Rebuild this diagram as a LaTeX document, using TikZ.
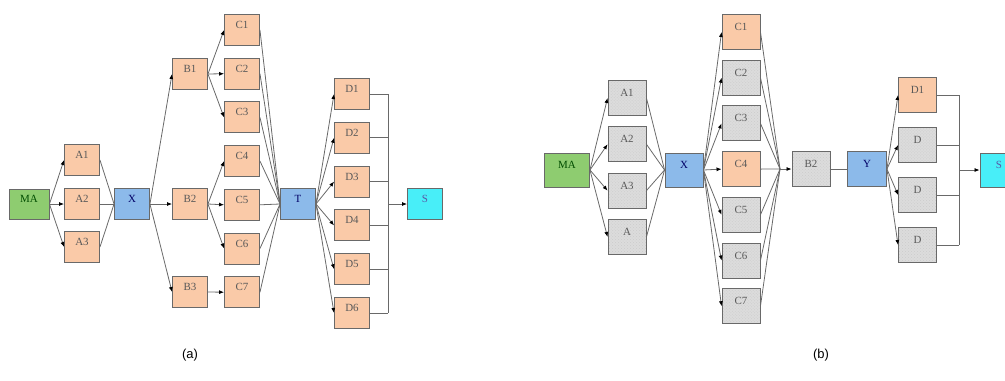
\documentclass[tikz,border=0pt]{standalone}
\usepackage{fontspec}
\setmainfont{Liberation Serif}
\newfontfamily\capfont{Liberation Sans}
\usetikzlibrary{arrows.meta,patterns,positioning}

\definecolor{peach}{RGB}{250,202,168}
\definecolor{leaf}{RGB}{142,204,112}
\definecolor{sky}{RGB}{140,186,234}
\definecolor{aqua}{RGB}{72,238,248}
\definecolor{ash}{RGB}{220,220,220}
\definecolor{wire}{RGB}{105,105,105}

\tikzset{
  box/.style={draw=wire, line width=0.9bp, inner sep=0pt,
    text height=7bp, text depth=10bp,
    font=\fontsize{11}{13}\selectfont, text=black!65},
  sza/.style={minimum width=35bp, minimum height=31bp},
  szb/.style={minimum width=38bp, minimum height=35bp},
  task/.style={box, fill=peach},
  idle/.style={box, preaction={fill=ash}, pattern=crosshatch dots, pattern color=gray!40},
  start/.style={box, fill=leaf, text=green!30!black},
  hub/.style={box, fill=sky, text=blue!40!black},
  sink/.style={box, fill=aqua, text=blue!30!gray},
  link/.style={draw=wire, line width=0.8bp},
  feed/.style={link, -{Latex[length=5bp,width=4bp,black]}}
}

\begin{document}
\begin{tikzpicture}[x=1bp, y=-1bp]
  \clip (0,0) rectangle (1005,380);

  % ---- (a)
  \node[start, minimum width=40bp, minimum height=30bp] (aMA) at (29,204) {MA};
  \foreach \i/\y in {1/160, 2/204, 3/247}
    \node[task, sza] (aA\i) at (82,\y) {A\i};
  \node[hub, sza] (aX) at (132,204) {X};
  \foreach \i/\y in {1/74, 2/204, 3/292}
    \node[task, sza] (aB\i) at (190,\y) {B\i};
  \foreach \i in {1,...,7}
    \node[task, sza] (aC\i) at (242,{30+43.7*(\i-1)}) {C\i};
  \node[hub, sza] (aT) at (298,204) {T};
  \foreach \i in {1,...,6}
    \node[task, sza] (aD\i) at (352,{94+43.8*(\i-1)}) {D\i};
  \coordinate (aBus) at (388,204);
  \node[sink, sza] (aS) at (425,204) {S};

  \foreach \i in {1,2,3} {
    \draw[feed] (aMA.east) -- (aA\i.west);
    \draw[link] (aA\i.east) -- (aX.west);
    \draw[feed] (aX.east) -- (aB\i.west);
  }
  \foreach \i in {1,2,3} \draw[feed] (aB1.east) -- (aC\i.west);
  \foreach \i in {4,5,6} \draw[feed] (aB2.east) -- (aC\i.west);
  \draw[feed] (aB3.east) -- (aC7.west);
  \foreach \i in {1,...,7} \draw[link] (aC\i.east) -- (aT.west);
  \foreach \i in {1,...,6} {
    \draw[feed] (aT.east) -- (aD\i.west);
    \draw[link] (aD\i.east) -- (aD\i.east -| aBus);
  }
  \draw[link] (aD1.east -| aBus) -- (aD6.east -| aBus);
  \draw[feed] (aBus) -- (aS.west);
  \node[font=\capfont\fontsize{13}{15}\selectfont] (aCap) at (190,355) {(a)};

  % ---- (b)
  \node[start, minimum width=45bp, minimum height=34bp] (bMA) at (567,170) {MA};
  \foreach \i/\t in {1/A1, 2/A2, 3/A3, 4/A}
    \node[idle, szb] (bA\i) at (627,{98+46.3*(\i-1)}) {\t};
  \node[hub, szb, minimum height=34bp] (bX) at (684,170) {X};
  \foreach \i/\s in {1/task, 2/idle, 3/idle, 4/task, 5/idle, 6/idle, 7/idle}
    \node[\s, szb] (bC\i) at (741,{32+45.7*(\i-1)}) {C\i};
  \coordinate (bJoin) at (780,169);
  \node[idle, szb] (bB2) at (811,169) {B2};
  \node[hub, szb, minimum width=39bp] (bY) at (867,169) {Y};
  \foreach \i/\s/\t in {1/task/D1, 2/idle/D, 3/idle/D, 4/idle/D}
    \node[\s, szb] (bD\i) at (917.5,{95+50*(\i-1)}) {\t};
  \coordinate (bBus) at (959,170);
  \node[sink, szb, minimum height=34bp] (bS) at (999,170) {S};

  \foreach \i in {1,...,4} {
    \draw[feed] (bMA.east) -- (bA\i.west);
    \draw[link] (bA\i.east) -- (bX.west);
  }
  \foreach \i in {1,...,7} {
    \draw[feed] (bX.east) -- (bC\i.west);
    \draw[link] (bC\i.east) -- (bJoin);
  }
  \draw[feed] (bJoin) -- (bB2.west);
  \draw[link] (bB2.east) -- (bY.west);
  \foreach \i in {1,...,4} {
    \draw[feed] (bY.east) -- (bD\i.west);
    \draw[link] (bD\i.east) -- (bD\i.east -| bBus);
  }
  \draw[link] (bD1.east -| bBus) -- (bD4.east -| bBus);
  \draw[feed] (bBus) -- (bS.west);
  \node[font=\capfont\fontsize{13}{15}\selectfont] (bCap) at (821,355) {(b)};
\end{tikzpicture}
\end{document}
